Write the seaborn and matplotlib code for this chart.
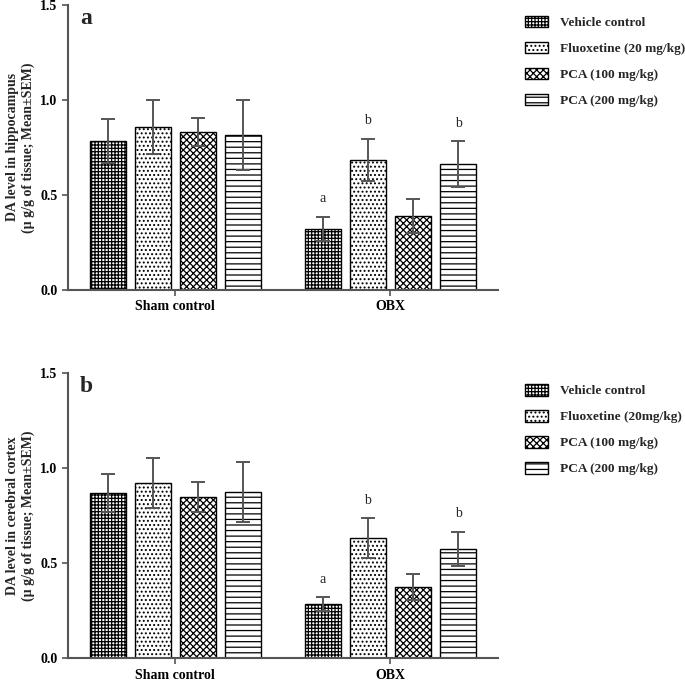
"""
DA levels in hippocampus and cerebral cortex, sham vs OBX, four treatments.
"""

import matplotlib.pyplot as plt
import pandas as pd
import seaborn as sns

groups = ["Sham control", "OBX"]
treatments_a = ["Vehicle control", "Fluoxetine (20 mg/kg)", "PCA (100 mg/kg)", "PCA (200 mg/kg)"]
treatments_b = ["Vehicle control", "Fluoxetine (20mg/kg)", "PCA (100 mg/kg)", "PCA (200 mg/kg)"]

hippo_mean = [[0.785, 0.858, 0.830, 0.815], [0.320, 0.685, 0.390, 0.663]]
hippo_sem = [[0.115, 0.143, 0.075, 0.185], [0.065, 0.110, 0.090, 0.120]]
hippo_sig = [["", "", "", ""], ["a", "b", "", "b"]]

cortex_mean = [[0.868, 0.922, 0.848, 0.874], [0.284, 0.632, 0.374, 0.574]]
cortex_sem = [[0.100, 0.130, 0.078, 0.160], [0.037, 0.105, 0.068, 0.091]]
cortex_sig = [["", "", "", ""], ["a", "b", "", "b"]]

y_ticks = [0.0, 0.5, 1.0, 1.5]
hatches = ["+++++", "....", "xxxxx", "---"]

sns.set_theme(style="ticks")
plt.rcParams["font.family"] = ["Liberation Serif", "DejaVu Serif"]
plt.rcParams["hatch.linewidth"] = 0.9
plt.rcParams["hatch.color"] = "black"

GREY = "#555555"


def draw_panel(ax, means, sems, sig, treatments, ylabel, letter):
    rows = []
    for gi, g in enumerate(groups):
        for ti, t in enumerate(treatments):
            rows.append({"group": g, "treatment": t, "value": means[gi][ti],
                         "sem": sems[gi][ti], "sig": sig[gi][ti]})
    df = pd.DataFrame(rows)

    sns.barplot(data=df, x="group", y="value", hue="treatment", order=groups,
                hue_order=treatments, errorbar=None, width=0.84, gap=0.2,
                palette=["white"] * 4, edgecolor="black",
                linewidth=1.0, ax=ax, legend=False)

    # barres d'erreur (SEM) + lettres de significativite
    bar_sets = list(ax.containers)
    for ti, cont in enumerate(bar_sets):
        sub = df[df["treatment"] == treatments[ti]].set_index("group").loc[groups]
        for bar, (_, r) in zip(cont, sub.iterrows()):
            bar.set_hatch(hatches[ti])
            xc = bar.get_x() + bar.get_width() / 2
            ax.errorbar(xc, r["value"], yerr=r["sem"], color=GREY, lw=1.4,
                        capsize=5, capthick=1.4, zorder=5)
            if r["sig"]:
                ax.text(xc, r["value"] + r["sem"] + 0.06, r["sig"], ha="center",
                        va="bottom", fontsize=10)

    ax.set_xlim(-0.5, 1.5)
    ax.set_ylim(0, 1.5)
    ax.set_yticks(y_ticks)
    ax.set_yticklabels([f"{v:.1f}" for v in y_ticks], fontweight="bold", fontsize=10)
    ax.set_xticks([0, 1])
    ax.set_xticklabels(groups, fontweight="bold", fontsize=10)
    ax.set_xlabel("")
    ax.set_ylabel(ylabel, fontweight="bold", fontsize=10, labelpad=4)
    sns.despine(ax=ax)
    for s in ["left", "bottom"]:
        ax.spines[s].set_color(GREY)
        ax.spines[s].set_linewidth(1.5)
    ax.tick_params(axis="both", colors=GREY, width=1.2, length=4, labelcolor="black")
    ax.text(0.028, 0.99, letter, transform=ax.transAxes, fontsize=17,
            fontweight="bold", va="top", ha="left")

    ax.legend(handles=[c[0] for c in bar_sets], labels=treatments,
              loc="upper left", bbox_to_anchor=(1.05, 0.98), frameon=False,
              prop={"weight": "bold", "size": 9.6}, handlelength=1.75,
              handleheight=0.95, handletextpad=0.9, labelspacing=0.95,
              borderaxespad=0)


fig = plt.figure(figsize=(6.85, 6.82), dpi=100)
ax_a = fig.add_axes([0.099, 0.575, 0.628, 0.418])
ax_b = fig.add_axes([0.099, 0.035, 0.628, 0.418])

draw_panel(ax_a, hippo_mean, hippo_sem, hippo_sig, treatments_a,
           "DA level in hippocampus\n(µ g/g of tissue; Mean±SEM)", "a")
draw_panel(ax_b, cortex_mean, cortex_sem, cortex_sig, treatments_b,
           "DA level in cerebral cortex\n(µ g/g of tissue; Mean±SEM)", "b")

fig.savefig("out.png", dpi=100)
plt.close(fig)
